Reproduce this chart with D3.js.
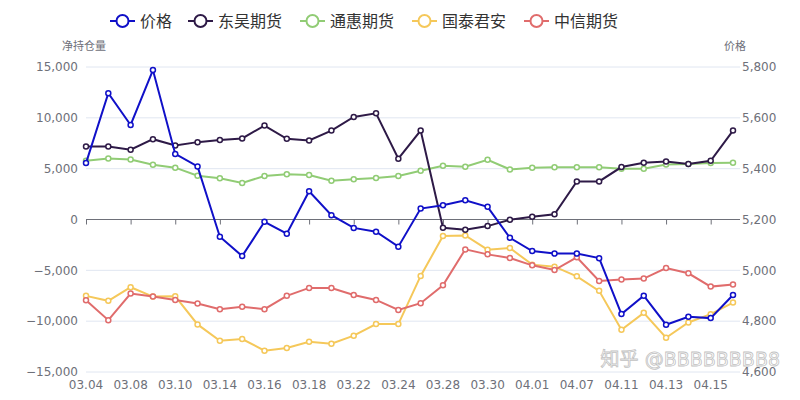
<!DOCTYPE html>
<html><head><meta charset="utf-8">
<script src="https://cdn.jsdelivr.net/npm/d3@7"></script>
<style>body{margin:0;background:#fff;font-family:"DejaVu Sans","Noto Sans CJK SC",sans-serif}</style>
</head><body><div id="chart"></div>
<script>
var dates = ["03.04","03.07","03.08","03.09","03.10","03.11","03.14","03.15","03.16","03.17","03.18","03.21","03.22","03.23","03.24","03.25","03.28","03.29","03.30","03.31","04.01","04.06","04.07","04.08","04.11","04.12","04.13","04.14","04.15","04.18"];
var price = [5422,5697,5572,5788,5458,5409,5132,5056,5191,5144,5311,5217,5167,5152,5093,5243,5256,5276,5250,5128,5076,5066,5066,5048,4828,4900,4786,4817,4812,4903];
var dongwu = [7180,7180,6860,7900,7280,7610,7810,7970,9240,7940,7770,8750,10090,10450,5980,8750,-820,-1010,-650,-30,260,520,3750,3750,5160,5590,5710,5450,5780,8750];
var tonghui = [5780,6010,5910,5390,5100,4310,4050,3600,4280,4440,4380,3820,3950,4090,4280,4800,5290,5190,5880,4930,5100,5130,5130,5130,5000,5000,5420,5450,5550,5590];
var guotai = [-7510,-8000,-6660,-7580,-7550,-10320,-11930,-11760,-12900,-12640,-12020,-12220,-11430,-10290,-10290,-5550,-1630,-1570,-2970,-2810,-4440,-4640,-5590,-7020,-10850,-9180,-11630,-10130,-9310,-8170];
var zhongxin = [-7940,-9900,-7280,-7580,-7910,-8260,-8820,-8590,-8820,-7510,-6730,-6730,-7420,-7910,-8890,-8230,-6470,-2940,-3430,-3790,-4510,-4970,-3720,-6050,-5910,-5810,-4770,-5290,-6600,-6400];
var leftTicks = [-15000,-10000,-5000,0,5000,10000,15000];
var rightTicks = [4600,4800,5000,5200,5400,5600,5800];

function init() {
    var width = 800, height = 400;
    var svg = d3.select("#chart").append("svg").attr("width", width).attr("height", height);

    var x = d3.scalePoint().domain(dates).range([86, 733]);
    var y = d3.scaleLinear().domain([-15000, 15000]).range([372, 67]);
    var y2 = d3.scaleLinear().domain([4600, 5800]).range([372, 67]);

    // grid
    svg.selectAll(".grid").data(leftTicks).enter().append("line")
        .attr("x1", 86).attr("x2", 740)
        .attr("y1", d => y(d)).attr("y2", d => y(d))
        .style("stroke", "#e0e6f1");

    svg.selectAll(".ll").data(leftTicks).enter().append("text")
        .attr("x", 78).attr("y", d => y(d)).attr("dy", "0.35em")
        .style("text-anchor", "end").style("font-size", "12px").style("fill", "#6e7079")
        .text(d => d3.format(",")(d));
    svg.selectAll(".rl").data(rightTicks).enter().append("text")
        .attr("x", 742).attr("y", d => y2(d)).attr("dy", "0.35em")
        .style("font-size", "12px").style("fill", "#6e7079")
        .text(d => d3.format(",")(d));

    // zero axis
    var xAxis = svg.append("g").attr("transform", "translate(0," + y(0) + ")")
        .call(d3.axisBottom(x).tickValues(dates.filter((d, i) => i % 2 == 0)).tickSize(5).tickFormat(""));
    xAxis.select(".domain").attr("d", "M86,0H740").style("stroke", "#6e7079");
    xAxis.selectAll("line").style("stroke", "#6e7079");

    svg.selectAll(".xl").data(dates.filter((d, i) => i % 2 == 0)).enter().append("text")
        .attr("x", d => x(d)).attr("y", 389)
        .style("text-anchor", "middle").style("font-size", "12px").style("fill", "#6e7079")
        .text(d => d);

    svg.append("text").attr("x", 62).attr("y", 50).style("font-size", "11px").style("fill", "#6e7079").text("净持仓量");
    svg.append("text").attr("x", 746).attr("y", 50).style("text-anchor", "end").style("font-size", "11px").style("fill", "#6e7079").text("价格");

    var series = [
        { name: "价格", values: price, color: "#1010c8", scale: y2 },
        { name: "东吴期货", values: dongwu, color: "#2e1a47", scale: y },
        { name: "通惠期货", values: tonghui, color: "#91cc75", scale: y },
        { name: "国泰君安", values: guotai, color: "#f5c85a", scale: y },
        { name: "中信期货", values: zhongxin, color: "#e06c6c", scale: y }
    ];
    var drawOrder = [2, 3, 4, 1, 0];
    drawOrder.forEach(function (k) {
        var s = series[k];
        var line = d3.line().x((d, i) => x(dates[i])).y(d => s.scale(d));
        svg.append("path").datum(s.values).attr("d", line)
            .style("fill", "none").style("stroke", s.color).style("stroke-width", 2);
        svg.selectAll(".p" + k).data(s.values).enter().append("circle")
            .attr("cx", (d, i) => x(dates[i])).attr("cy", d => s.scale(d)).attr("r", 2.5)
            .style("fill", "#fff").style("stroke", s.color).style("stroke-width", 1.5);
    });

    // legend
    var lx = [110, 188, 300, 412, 524];
    series.forEach(function (s, i) {
        var g = svg.append("g").attr("transform", "translate(" + lx[i] + ",21)");
        g.append("line").attr("x1", 0).attr("x2", 25).style("stroke", s.color).style("stroke-width", 2);
        g.append("circle").attr("cx", 12.5).attr("r", 6).style("fill", "#fff").style("stroke", s.color).style("stroke-width", 2);
        g.append("text").attr("x", 30).attr("dy", "0.35em").style("font-size", "16px").style("fill", "#333")
            .style("font-family", "Noto Sans CJK SC").text(s.name);
    });

    // watermark
    svg.append("text").attr("x", 780).attr("y", 366).style("text-anchor", "end")
        .style("font-size", "19px").style("fill", "#fff").style("stroke", "#bbb").style("stroke-width", 0.8)
        .style("opacity", 0.9).text("知乎 @BBBBBBBB8");
}
window.onload = init;
</script></body></html>
